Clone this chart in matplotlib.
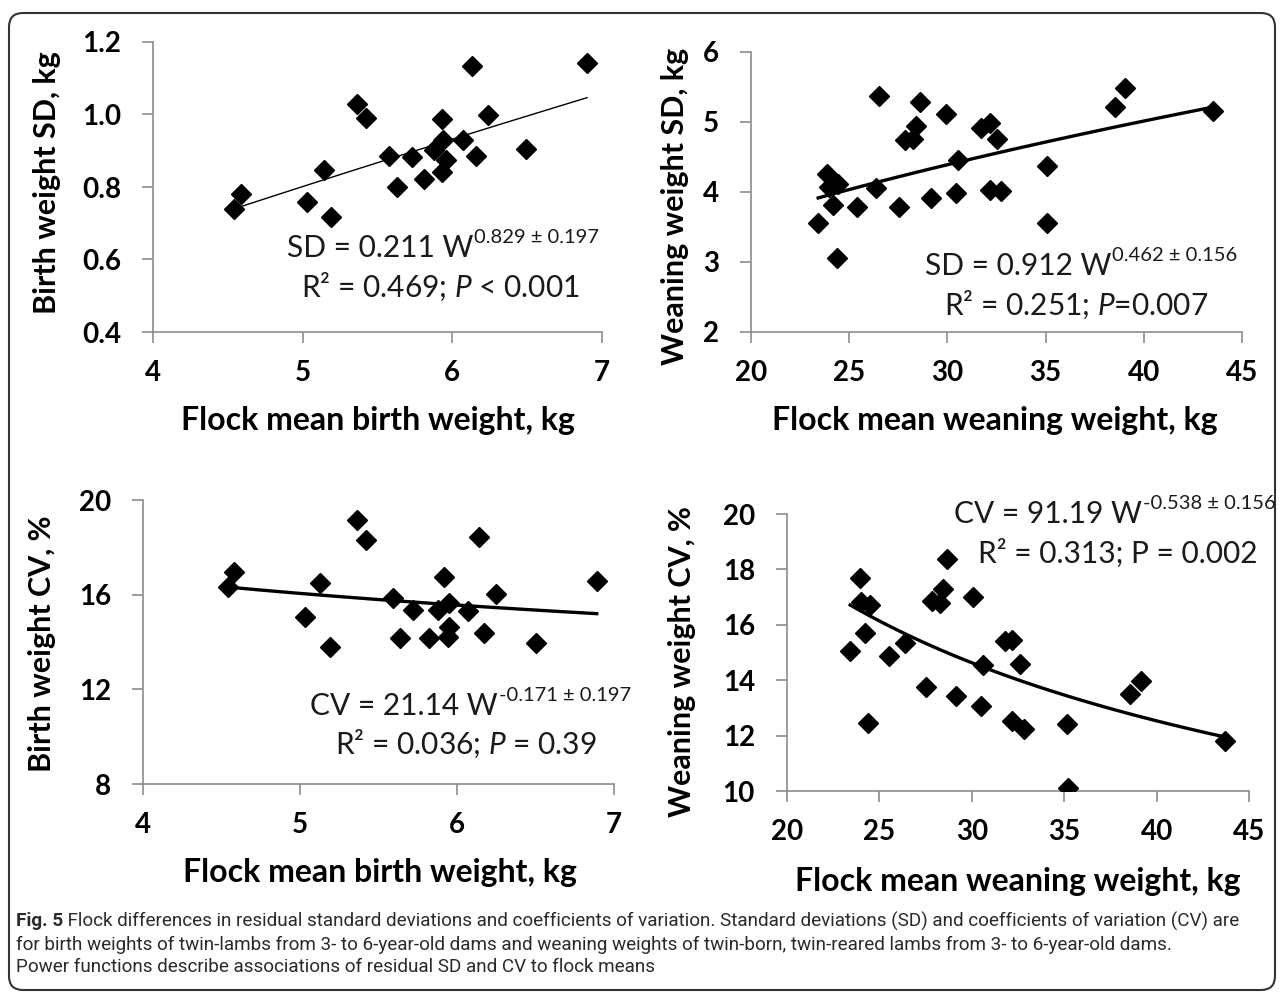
import numpy as np
import matplotlib
matplotlib.use("Agg")
import matplotlib.pyplot as plt
from matplotlib.patches import FancyBboxPatch
from matplotlib.transforms import IdentityTransform

# Fonts: Lato for the chart, also for mathtext (italic P)
plt.rcParams["font.family"] = ["Lato", "DejaVu Sans"]
plt.rcParams["mathtext.fontset"] = "custom"
plt.rcParams["mathtext.rm"] = "Lato"
plt.rcParams["mathtext.it"] = "Lato:italic"
plt.rcParams["mathtext.bf"] = "Lato:bold"

W, H = 1281, 996

# --- Birth weight: flock mean vs SD and CV ---
birth_mean = [4.54, 4.59, 5.03, 5.14, 5.19, 5.36, 5.42, 5.58, 5.63, 5.73, 5.81,
              5.88, 5.93, 5.94, 5.96, 5.93, 6.07, 6.13, 6.16, 6.24, 6.49, 6.90]
birth_sd = [0.740, 0.780, 0.759, 0.846, 0.717, 1.028, 0.991, 0.885, 0.800, 0.883, 0.823,
            0.901, 0.988, 0.931, 0.874, 0.841, 0.929, 1.134, 0.886, 0.998, 0.906, 1.143]
birth_cv_mean = [4.54, 4.58, 5.03, 5.13, 5.19, 5.36, 5.42, 5.59, 5.64, 5.72, 5.82,
                 5.88, 5.92, 5.95, 5.95, 5.94, 6.07, 6.14, 6.17, 6.25, 6.50, 6.89]
birth_cv = [16.31, 16.94, 15.04, 16.48, 13.80, 19.15, 18.31, 15.85, 14.18, 15.35, 14.18,
            15.35, 16.73, 15.66, 14.65, 14.23, 15.31, 18.45, 14.39, 16.03, 13.94, 16.59]

# --- Weaning weight: flock mean vs SD and CV ---
wean_mean = [23.42, 23.88, 23.98, 24.44, 24.19, 24.36, 25.41, 26.34, 26.51, 27.54,
             27.86, 28.25, 28.42, 28.59, 29.14, 29.95, 30.46, 30.54, 31.73, 32.15,
             32.15, 32.75, 32.53, 35.07, 35.07, 38.51, 39.05, 43.51]
wean_sd = [3.55, 4.25, 4.07, 4.11, 3.81, 3.05, 3.79, 4.05, 5.37, 3.79,
           4.74, 4.75, 4.94, 5.28, 3.92, 5.12, 3.99, 4.45, 4.91, 4.98,
           4.03, 4.01, 4.75, 4.37, 3.55, 5.21, 5.48, 5.16]
wean_cv_mean = [23.42, 23.96, 24.00, 24.47, 24.23, 24.41, 25.50, 26.36, 27.53, 27.87,
                28.29, 28.43, 28.65, 29.15, 30.04, 30.49, 30.63, 31.77, 32.20, 32.20,
                32.61, 32.83, 35.14, 35.19, 38.56, 39.14, 43.69]
wean_cv = [15.07, 17.69, 16.84, 16.72, 15.72, 12.45, 14.86, 15.34, 13.75, 16.87,
           16.78, 17.29, 18.37, 13.43, 17.02, 13.07, 14.55, 15.40, 15.46, 12.53,
           14.58, 12.24, 12.41, 10.10, 13.49, 13.98, 11.82]

# power function fits y = a * W^b, as printed on the chart
fit_birth_sd = (0.211, 0.829)
fit_wean_sd = (0.912, 0.462)
fit_birth_cv = (21.14, -0.171)
fit_wean_cv = (91.19, -0.538)

fig = plt.figure(figsize=(W / 100, H / 100), dpi=100)
renderer = fig.canvas.get_renderer()


def make_axes(x0, x1, y_top, y_bot):
    # pixel box -> figure fraction
    return fig.add_axes([x0 / W, 1 - y_bot / H, (x1 - x0) / W, (y_bot - y_top) / H])


def style(ax, xlim, xticks, ylim, yticks, yfmt):
    ax.set_xlim(xlim)
    ax.set_ylim(ylim)
    ax.set_xticks(xticks)
    ax.set_yticks(yticks)
    ax.set_xticklabels([str(t) for t in xticks])
    ax.set_yticklabels([yfmt.format(t) for t in yticks])
    for s in ["top", "right"]:
        ax.spines[s].set_visible(False)
    for s in ["left", "bottom"]:
        ax.spines[s].set_color("#8c8c8c")
        ax.spines[s].set_linewidth(1.2)
    ax.tick_params(axis="both", length=8, width=1.2, color="#8c8c8c", labelsize=20)
    ax.tick_params(axis="y", pad=15)
    ax.tick_params(axis="x", pad=12)
    for lab in ax.get_xticklabels() + ax.get_yticklabels():
        lab.set_fontweight("bold")
    ax.patch.set_alpha(0)


def draw(ax, x, y, fit, lw):
    ax.plot(x, y, "D", color="black", ms=10.5, zorder=3)
    xs = np.linspace(min(x), max(x), 100)
    ax.plot(xs, fit[0] * xs ** fit[1], color="black", lw=lw, zorder=2)


def ftext(x, y, s, **kw):
    return fig.text(x / W, 1 - y / H, s, **kw)


def equation(x, y, main, sup):
    # main text on the baseline, exponent as a smaller raised text after it
    t = ftext(x, y, main, fontsize=21.5, ha="left", va="baseline", color="#1a1a1a")
    bb = t.get_window_extent(renderer)
    fig.text(bb.x1 / W + 1 / W, 1 - (y - 14) / H, sup, fontsize=14.5,
             ha="left", va="baseline", color="#1a1a1a")


# top left
ax1 = make_axes(153, 602, 42, 332)
style(ax1, (4, 7), [4, 5, 6, 7], (0.4, 1.2), [0.4, 0.6, 0.8, 1.0, 1.2], "{:.1f}")
draw(ax1, birth_mean, birth_sd, fit_birth_sd, 1.0)

# top right
ax2 = make_axes(751, 1242, 52, 332)
style(ax2, (20, 45), [20, 25, 30, 35, 40, 45], (2, 6), [2, 3, 4, 5, 6], "{:d}")
draw(ax2, wean_mean, wean_sd, fit_wean_sd, 2.4)

# bottom left
ax3 = make_axes(143, 614, 500, 784)
style(ax3, (4, 7), [4, 5, 6, 7], (8, 20), [8, 12, 16, 20], "{:d}")
draw(ax3, birth_cv_mean, birth_cv, fit_birth_cv, 2.4)

# bottom right
ax4 = make_axes(787, 1249, 514, 791)
style(ax4, (20, 45), [20, 25, 30, 35, 40, 45], (10, 20), [10, 12, 14, 16, 18, 20], "{:d}")
draw(ax4, wean_cv_mean, wean_cv, fit_wean_cv, 2.4)

# axis titles
xl = dict(fontsize=23, fontweight="bold", ha="center", va="center")
yl = dict(fontsize=22, fontweight="bold", ha="center", va="center", rotation=90)
ftext(47, 183, "Birth weight SD, kg", **yl)
ftext(378, 420, "Flock mean birth weight, kg", **xl)
ftext(675, 206, "Weaning weight SD, kg", **yl)
ftext(995, 420, "Flock mean weaning weight, kg", **xl)
ftext(42, 644, "Birth weight CV, %", **yl)
ftext(380, 872, "Flock mean birth weight, kg", **xl)
ftext(682, 662, "Weaning weight CV, %", **yl)
ftext(1018, 881, "Flock mean weaning weight, kg", **xl)

# equations
eq2 = dict(fontsize=21.5, ha="left", va="baseline", color="#1a1a1a")
equation(287, 257, "SD = 0.211 W", "0.829 ± 0.197")
ftext(301, 297, r"R² = 0.469; $P$ < 0.001", **eq2)
equation(925, 275, "SD = 0.912 W", "0.462 ± 0.156")
ftext(944, 315, r"R² = 0.251; $P$=0.007", **eq2)
equation(310, 715, "CV = 21.14 W", "-0.171 ± 0.197")
ftext(335, 754, r"R² = 0.036; $P$ = 0.39", **eq2)
equation(954, 523, "CV = 91.19 W", "-0.538 ± 0.156")
ftext(978, 563, "R² = 0.313; P = 0.002", **eq2)

# caption
cap = dict(fontsize=13.6, ha="left", va="center", color="#2a2a2a",
           family=["Roboto", "DejaVu Sans"])
t = ftext(16, 921, "Fig. 5", fontweight="bold", **cap)
bb = t.get_window_extent(renderer)
fig.text(bb.x1 / W, 1 - 921 / H,
         " Flock differences in residual standard deviations and coefficients of variation. "
         "Standard deviations (SD) and coefficients of variation (CV) are", **cap)
ftext(16, 945, "for birth weights of twin-lambs from 3- to 6-year-old dams and weaning weights "
      "of twin-born, twin-reared lambs from 3- to 6-year-old dams.", **cap)
ftext(16, 967, "Power functions describe associations of residual SD and CV to flock means", **cap)

# rounded frame around the whole figure
frame = FancyBboxPatch((9, H - 990), 1266, 977, boxstyle="round,pad=0,rounding_size=14",
                       transform=IdentityTransform(), fill=False, ec="#333333", lw=1.5)
fig.patches.append(frame)

fig.savefig("out.png", dpi=100)
